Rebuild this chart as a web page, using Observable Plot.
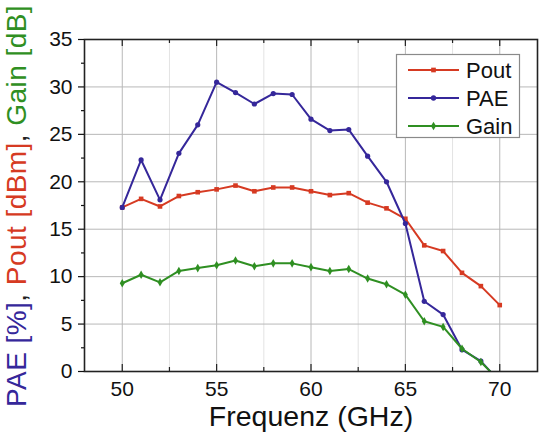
<!DOCTYPE html>
<html>
<head>
<meta charset="utf-8">
<script src="https://cdn.jsdelivr.net/npm/d3@7"></script>
<script src="https://cdn.jsdelivr.net/npm/@observablehq/plot@0.6"></script>
<style>
  html, body { margin: 0; padding: 0; background: #fff; }
  #chart { width: 540px; height: 433px; }
</style>
</head>
<body>
<div id="chart"></div>
<script>
const freq = [50, 51, 52, 53, 54, 55, 56, 57, 58, 59, 60, 61, 62, 63, 64, 65, 66, 67, 68, 69, 70];
const pout = [17.3, 18.2, 17.4, 18.5, 18.9, 19.2, 19.6, 19.0, 19.4, 19.4, 19.0, 18.6, 18.8, 17.8, 17.2, 16.1, 13.3, 12.7, 10.4, 9.0, 7.0];
const pae  = [17.3, 22.3, 18.1, 23.0, 26.0, 30.5, 29.4, 28.2, 29.3, 29.2, 26.6, 25.4, 25.5, 22.7, 20.0, 15.6, 7.4, 6.0, 2.3, 1.1, -1.1];
const gain = [9.3, 10.2, 9.4, 10.6, 10.9, 11.2, 11.7, 11.1, 11.4, 11.4, 11.0, 10.6, 10.8, 9.8, 9.2, 8.1, 5.3, 4.7, 2.4, 1.0, -1.0];

const seriesNames = ["Pout", "PAE", "Gain"];
const seriesColors = ["#d63a22", "#35279a", "#2f8f22"];
const seriesSymbols = ["square", "circle", "diamond"];
const seriesValues = [pout, pae, gain];

const xTicksMajor = [50, 55, 60, 65, 70];
const xTicksMinor = [52.5, 57.5, 62.5, 67.5];
const yTicksMajor = [0, 5, 10, 15, 20, 25, 30, 35];
const yTicksMinor = [2.5, 7.5, 12.5, 17.5, 22.5, 27.5, 32.5];

const xLabel = "Frequenz (GHz)";
const yLabelParts = [
  {t: "PAE [%]", c: "#35279a"}, {t: ", ", c: "#222"},
  {t: "Pout [dBm]", c: "#d63a22"}, {t: ", ", c: "#222"},
  {t: "Gain [dB]", c: "#2f8f22"}
];

const FONT = "'Liberation Sans', Arial, sans-serif";
const H = 433, MT = 39, MB = 62;
const frameH = H - MT - MB;

const seriesMarks = [];
seriesNames.forEach((name, k) => {
  const rows = freq.map((f, i) => ({f, v: seriesValues[k][i]}));
  seriesMarks.push(Plot.line(rows, {x: "f", y: "v", stroke: seriesColors[k], strokeWidth: 2, clip: true}));
  seriesMarks.push(Plot.dot(rows, {x: "f", y: "v", fill: seriesColors[k], stroke: "none", symbol: seriesSymbols[k], r: 2.6, clip: true}));
});

const plot = Plot.plot({
  width: 540,
  height: H,
  marginLeft: 84,
  marginRight: 3,
  marginTop: MT,
  marginBottom: MB,
  style: {fontFamily: FONT, color: "#111", background: "#fff"},
  x: {domain: [48, 72]},
  y: {domain: [0, 35]},
  marks: [
    Plot.ruleX(xTicksMinor, {stroke: "#e3e3e3", strokeWidth: 1}),
    Plot.ruleX(xTicksMajor, {stroke: "#b8b8b8", strokeWidth: 1}),
    Plot.ruleY(yTicksMajor.filter(v => v > 0 && v < 35), {stroke: "#b8b8b8", strokeWidth: 1}),
    ...seriesMarks,
    Plot.ruleX(xTicksMajor, {insetTop: frameH - 7, stroke: "#222", strokeWidth: 1.2}),
    Plot.ruleX(xTicksMinor, {insetTop: frameH - 4, stroke: "#222", strokeWidth: 1.2}),
    Plot.ruleX(xTicksMajor, {insetBottom: frameH - 7, stroke: "#222", strokeWidth: 1.2}),
    Plot.ruleX(xTicksMinor, {insetBottom: frameH - 4, stroke: "#222", strokeWidth: 1.2}),
    Plot.frame({stroke: "#222", strokeWidth: 1.6}),
    Plot.axisY(yTicksMajor, {tickSize: 6, tickPadding: 6, fontSize: 21, label: null, strokeWidth: 1.2}),
    Plot.axisY(yTicksMinor, {tickSize: 3, tickFormat: () => "", label: null, strokeWidth: 1.2}),
    Plot.axisX(xTicksMajor, {tickSize: 0, tickPadding: 10, fontSize: 21, label: null}),
    Plot.text([xLabel], {text: d => d, frameAnchor: "bottom", lineAnchor: "middle", dy: 45, fontSize: 28.5, fill: "#111"})
  ]
});

const svg = d3.select(plot);

// Y title (multi-coloured)
const yt = svg.append("text")
  .attr("transform", "translate(26,206) rotate(-90)")
  .attr("text-anchor", "middle")
  .attr("font-size", 28)
  .attr("letter-spacing", "0.45px")
  .attr("font-family", FONT);
yLabelParts.forEach(p => yt.append("tspan").attr("fill", p.c).text(p.t));

// Legend
const lg = svg.append("g").attr("font-family", FONT).attr("text-anchor", "start");
lg.append("rect").attr("x", 396.5).attr("y", 54.5).attr("width", 123).attr("height", 83)
  .attr("fill", "#fff").attr("stroke", "#8a8a8a").attr("stroke-width", 1.2);
const symMap = {square: d3.symbolSquare, circle: d3.symbolCircle, diamond: d3.symbolDiamond};
seriesNames.forEach((name, k) => {
  const cy = 70 + 28 * k;
  lg.append("line").attr("x1", 408).attr("x2", 459).attr("y1", cy).attr("y2", cy)
    .attr("stroke", seriesColors[k]).attr("stroke-width", 2);
  lg.append("path").attr("d", d3.symbol(symMap[seriesSymbols[k]], 22)())
    .attr("transform", `translate(433.5,${cy})`).attr("fill", seriesColors[k]);
  lg.append("text").attr("x", 466).attr("y", cy).attr("dy", "0.35em")
    .attr("font-size", 22).attr("fill", "#111").text(name);
});

document.getElementById("chart").appendChild(plot);
</script>
</body>
</html>
